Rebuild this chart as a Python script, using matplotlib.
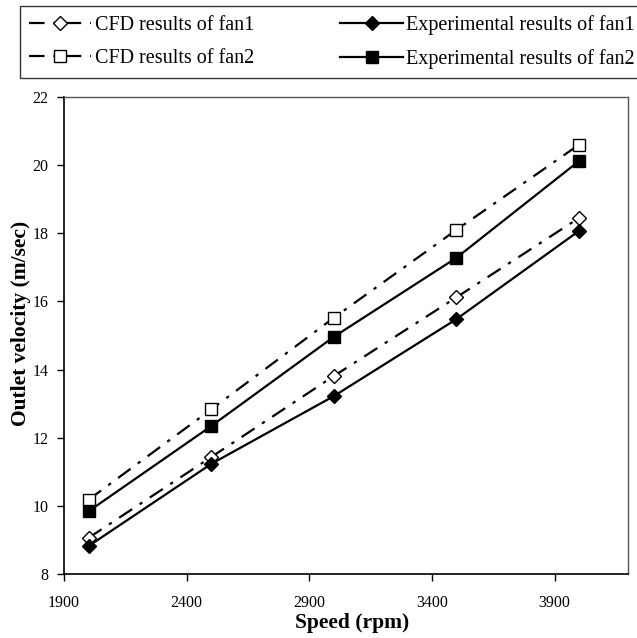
import matplotlib
matplotlib.use("Agg")
import matplotlib.pyplot as plt

speed = [2000, 2500, 3000, 3500, 4000]
cfd_fan1 = [9.06, 11.43, 13.81, 16.12, 18.45]
exp_fan1 = [8.82, 11.23, 13.22, 15.48, 18.07]
cfd_fan2 = [10.18, 12.83, 15.52, 18.10, 20.60]
exp_fan2 = [9.84, 12.34, 14.96, 17.28, 20.12]
labels = ["CFD results of fan1", "Experimental results of fan1",
          "CFD results of fan2", "Experimental results of fan2"]
xticks = [1900, 2400, 2900, 3400, 3900]
yticks = [8, 10, 12, 14, 16, 18, 20, 22]

plt.rcParams['font.family'] = ['Liberation Serif', 'DejaVu Serif']

fig = plt.figure(figsize=(6.37, 6.38), dpi=100)
ax = fig.add_axes([0.1005, 0.1003, 0.8855, 0.7477])

dd = (7, 4, 1.5, 4)
l1, = ax.plot(speed, cfd_fan1, color='black', lw=1.6, dashes=dd, marker='D', ms=7,
              mfc='white', mec='black', mew=1.0)
l2, = ax.plot(speed, exp_fan1, color='black', lw=1.6, marker='D', ms=7,
              mfc='black', mec='black')
l3, = ax.plot(speed, cfd_fan2, color='black', lw=1.6, dashes=dd, marker='s', ms=9,
              mfc='white', mec='black', mew=1.0)
l4, = ax.plot(speed, exp_fan2, color='black', lw=1.6, marker='s', ms=9,
              mfc='black', mec='black')

ax.set_xlim(1900, 4200)
ax.set_ylim(8, 22)
ax.set_xticks(xticks)
ax.set_yticks(yticks)
ax.tick_params(direction='out', length=5, width=1, labelsize=11.5, color='black')
ax.tick_params(axis='x', pad=10)
ax.tick_params(axis='y', pad=6)
for s in ['left', 'bottom']:
    ax.spines[s].set_color('black')
    ax.spines[s].set_linewidth(1.2)
for s in ['top', 'right']:
    ax.spines[s].set_color('#555555')
    ax.spines[s].set_linewidth(1.0)

ax.set_xlabel("Speed (rpm)", fontsize=15.5, fontweight='bold')
ax.set_ylabel("Outlet velocity (m/sec)", fontsize=15.5, fontweight='bold')
ax.xaxis.set_label_coords(0.51, -0.082)
ax.yaxis.set_label_coords(-0.058, 0.525)

leg = fig.legend([l1, l3, l2, l4], [labels[0], labels[2], labels[1], labels[3]],
                 ncol=2, loc='upper left',
                 bbox_to_anchor=(0.0314, 0.991), fontsize=14.5, frameon=True,
                 fancybox=False, edgecolor='black', handlelength=3.1,
                 handletextpad=0.15, columnspacing=4.3, labelspacing=0.7,
                 borderpad=0.45, borderaxespad=0)
leg.get_frame().set_linewidth(1.0)

fig.savefig("out.png", dpi=100)
